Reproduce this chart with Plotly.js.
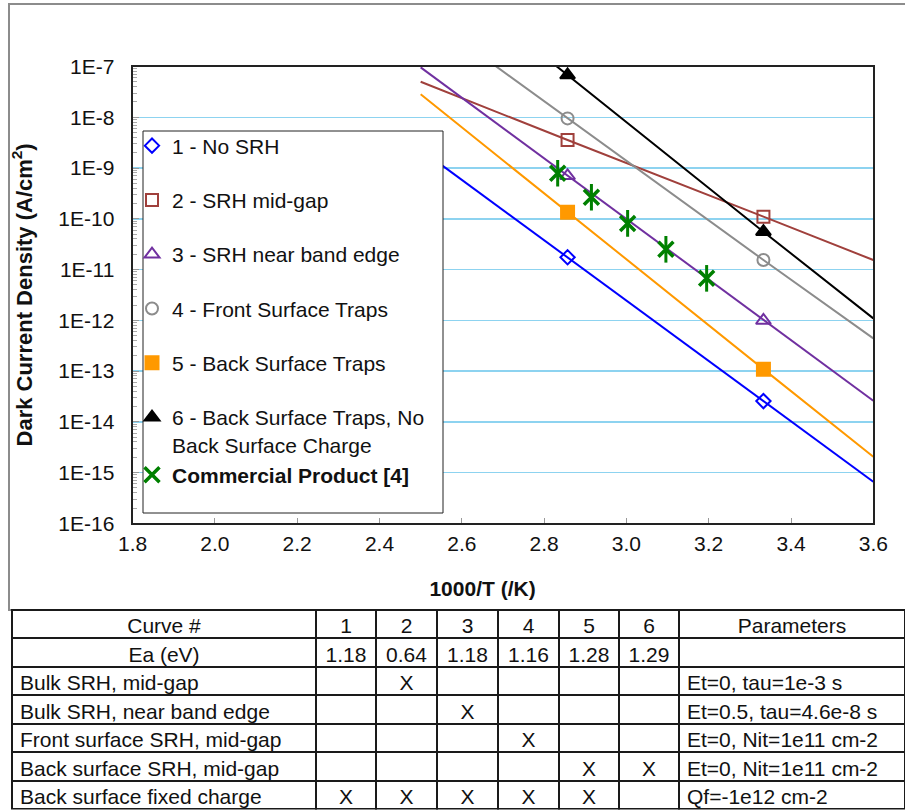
<!DOCTYPE html>
<html>
<head>
<meta charset="utf-8">
<script src="https://cdn.plot.ly/plotly-3.0.1.min.js"></script>
<style>html,body{margin:0;padding:0;background:#fff;}#chart{width:905px;height:810px;}</style>
</head>
<body>
<div id="chart"></div>
<script>
// ---------- data ----------
const invT = [2.5, 2.857, 3.333, 3.6];            // 1000/T (/K) for the model curves
const curve1 = [2.3e-9, 1.74e-11, 2.56e-14, 6.6e-16];   // 1 - No SRH
const curve2 = [5.0e-8, 3.56e-9, 1.10e-10, 1.54e-11];   // 2 - SRH mid-gap
const curve3 = [9.6e-8, 7.0e-10, 9.9e-13, 2.6e-14];     // 3 - SRH near band edge
const curve4 = [1.2e-6, 9.5e-9, 1.54e-11, 4.4e-13];     // 4 - Front Surface Traps
const curve5 = [2.83e-8, 1.34e-10, 1.09e-13, 2.05e-15]; // 5 - Back Surface Traps
const curve6 = [1.4e-5, 6.8e-8, 5.56e-11, 1.09e-12];    // 6 - Back Surface Traps, No Back Surface Charge
const markerIdx = [1, 2];                                // points shown with symbols (350 K, 300 K)
const commInvT = [2.833, 2.915, 3.003, 3.096, 3.195];    // Commercial Product [4]
const commJ = [7.9e-10, 2.65e-10, 8.1e-11, 2.5e-11, 6.7e-12];

const seriesNames = ['1 - No SRH', '2 - SRH mid-gap', '3 - SRH near band edge', '4 - Front Surface Traps',
  '5 - Back Surface Traps', '6 - Back Surface Traps, No<br>Back Surface Charge'];
const commName = '<b>Commercial Product [4]</b>';

const yTickVals = [1e-16, 1e-15, 1e-14, 1e-13, 1e-12, 1e-11, 1e-10, 1e-9, 1e-8, 1e-7];
const yTickText = ['1E-16', '1E-15', '1E-14', '1E-13', '1E-12', '1E-11', '1E-10', '1E-9', '1E-8', '1E-7'];

// table
const tableHeader = ['Curve #', '1', '2', '3', '4', '5', '6', 'Parameters'];
const rowLabels = ['Ea (eV)', 'Bulk SRH, mid-gap', 'Bulk SRH, near band edge', 'Front surface SRH, mid-gap',
  'Back surface SRH, mid-gap', 'Back surface fixed charge'];
const eaValues = ['1.18', '0.64', '1.18', '1.16', '1.28', '1.29'];
const bulkMid = ['', 'X', '', '', '', ''];
const bulkEdge = ['', '', 'X', '', '', ''];
const frontSurf = ['', '', '', 'X', '', ''];
const backSurf = ['', '', '', '', 'X', 'X'];
const backCharge = ['X', 'X', 'X', 'X', 'X', ''];
const parameters = ['', 'Et=0, tau=1e-3 s', 'Et=0.5, tau=4.6e-8 s', 'Et=0, Nit=1e11 cm-2',
  'Et=0, Nit=1e11 cm-2', 'Qf=-1e12 cm-2'];

// ---------- styles ----------
const FONT = 'Arial, "Liberation Sans", sans-serif';
const colors = ['#0000FF', '#A0403C', '#7030A0', '#8C8C8C', '#FF9900', '#000000'];
const symbols = ['diamond-open', 'square-open', 'triangle-up-open', 'circle-open', 'square', 'triangle-up'];
const sizes = [11, 12, 13, 12, 13, 13];
const curves = [curve1, curve2, curve3, curve4, curve5, curve6];
const groups = ['g1', 'g2', 'g3', 'g4', 'g5', 'g6'];

// minor tick positions of the log axis (2..9 in every decade)
const minorTicks = [];
for (let e = -16; e < -7; e++) for (let d = 2; d <= 9; d++) minorTicks.push(d * Math.pow(10, e));

const traces = [];
curves.forEach((c, i) => {
  traces.push({
    type: 'scatter', mode: 'lines', x: invT, y: c, showlegend: false, hoverinfo: 'skip',
    line: {color: colors[i], width: 2}, legendgroup: groups[i]
  });
});
curves.forEach((c, i) => {
  traces.push({
    type: 'scatter', mode: 'markers', name: seriesNames[i], legendgroup: groups[i],
    x: markerIdx.map(k => invT[k]), y: markerIdx.map(k => c[k]),
    marker: {symbol: symbols[i], size: sizes[i], color: colors[i],
      line: {color: colors[i], width: 2}},
    cliponaxis: false
  });
});
traces.push({
  type: 'scatter', mode: 'markers', name: commName, legendgroup: 'g6',
  x: commInvT, y: commJ,
  marker: {symbol: 'x-thin-open', size: 15, color: '#008000', line: {color: '#008000', width: 3.5}}
});
traces.push({
  type: 'scatter', mode: 'markers', showlegend: false, legendgroup: 'g6',
  x: commInvT, y: commJ,
  marker: {symbol: 'line-ns-open', size: 19, color: '#008000', line: {color: '#008000', width: 3}}
});

// table trace
const cellCols = [rowLabels];
for (let k = 0; k < 6; k++) {
  cellCols.push([eaValues[k], bulkMid[k], bulkEdge[k], frontSurf[k], backSurf[k], backCharge[k]]);
}
cellCols.push(parameters);
const cellAlign = [['center', 'left', 'left', 'left', 'left', 'left'],
  'center', 'center', 'center', 'center', 'center', 'center', 'left'];

traces.push({
  type: 'table',
  domain: {x: [12 / 905, 1], y: [0, 0.2475]},
  columnwidth: [304, 60, 61, 61, 61, 60, 60, 226],
  header: {
    values: tableHeader, height: 28.5, align: 'center',
    line: {color: '#1a1a1a', width: 2}, fill: {color: '#fff'},
    font: {family: FONT, size: 21, color: '#111'}
  },
  cells: {
    values: cellCols, height: 28.5, align: cellAlign,
    line: {color: '#1a1a1a', width: 2}, fill: {color: '#fff'},
    font: {family: FONT, size: 21, color: '#111'}
  }
});

const layout = {
  width: 905, height: 810,
  margin: {l: 0, r: 0, t: 0, b: 0},
  paper_bgcolor: '#fff', plot_bgcolor: '#fff',
  font: {family: FONT, color: '#111'},
  showlegend: true,
  legend: {
    x: 132 / 905, xanchor: 'left', y: (810 - 125.5) / 810, yanchor: 'top',
    bgcolor: 'rgba(0,0,0,0)', borderwidth: 0,
    font: {family: FONT, size: 21, color: '#111'},
    tracegroupgap: 24, valign: 'top', itemwidth: 30
  },
  xaxis: {
    domain: [132.6 / 905, 873.3 / 905], range: [1.8, 3.6], tick0: 1.8, dtick: 0.2, tickformat: '.1f',
    ticks: 'inside', ticklen: 5, tickcolor: '#999', tickwidth: 1,
    showgrid: false, zeroline: false, showline: true, linecolor: '#222', linewidth: 2, mirror: true,
    tickfont: {family: FONT, size: 21, color: '#111'},
    title: {text: '<b>1000/T (/K)</b>&nbsp;&nbsp;&nbsp;&nbsp;&nbsp;&nbsp;&nbsp;', font: {family: FONT, size: 21, color: '#111'}, standoff: 28}
  },
  yaxis: {
    domain: [(810 - 523.3) / 810, (810 - 66.5) / 810], type: 'log', range: [-16, -7],
    tickvals: yTickVals, ticktext: yTickText,
    ticks: 'inside', ticklen: 6, tickcolor: '#999',
    minor: {tickmode: 'array', tickvals: minorTicks, ticks: 'inside', ticklen: 4, tickcolor: '#aaa', showgrid: false},
    showgrid: true, gridcolor: '#8DD3F0', gridwidth: 1.5,
    zeroline: false, showline: true, linecolor: '#222', linewidth: 2, mirror: true,
    tickfont: {family: FONT, size: 21, color: '#111'}, ticklabelstandoff: 12,
    title: {text: '<b>Dark Current Density (A/cm<sup>2</sup>)</b>', font: {family: FONT, size: 22, color: '#111'}, standoff: 20}
  },
  shapes: [
    {type: 'rect', xref: 'paper', yref: 'paper', x0: 9 / 905, x1: 1.05, y0: (810 - 610) / 810, y1: (810 - 4) / 810,
      line: {color: '#8c8c8c', width: 2}, fillcolor: 'rgba(0,0,0,0)', layer: 'below'},
    {type: 'rect', xref: 'paper', yref: 'paper', x0: 143 / 905, x1: 443 / 905, y0: (810 - 513) / 810, y1: (810 - 131) / 810,
      line: {color: '#222', width: 1}, fillcolor: '#fff', layer: 'above'}
  ]
};

Plotly.newPlot('chart', traces, layout, {displayModeBar: false, staticPlot: true});
</script>
</body>
</html>
